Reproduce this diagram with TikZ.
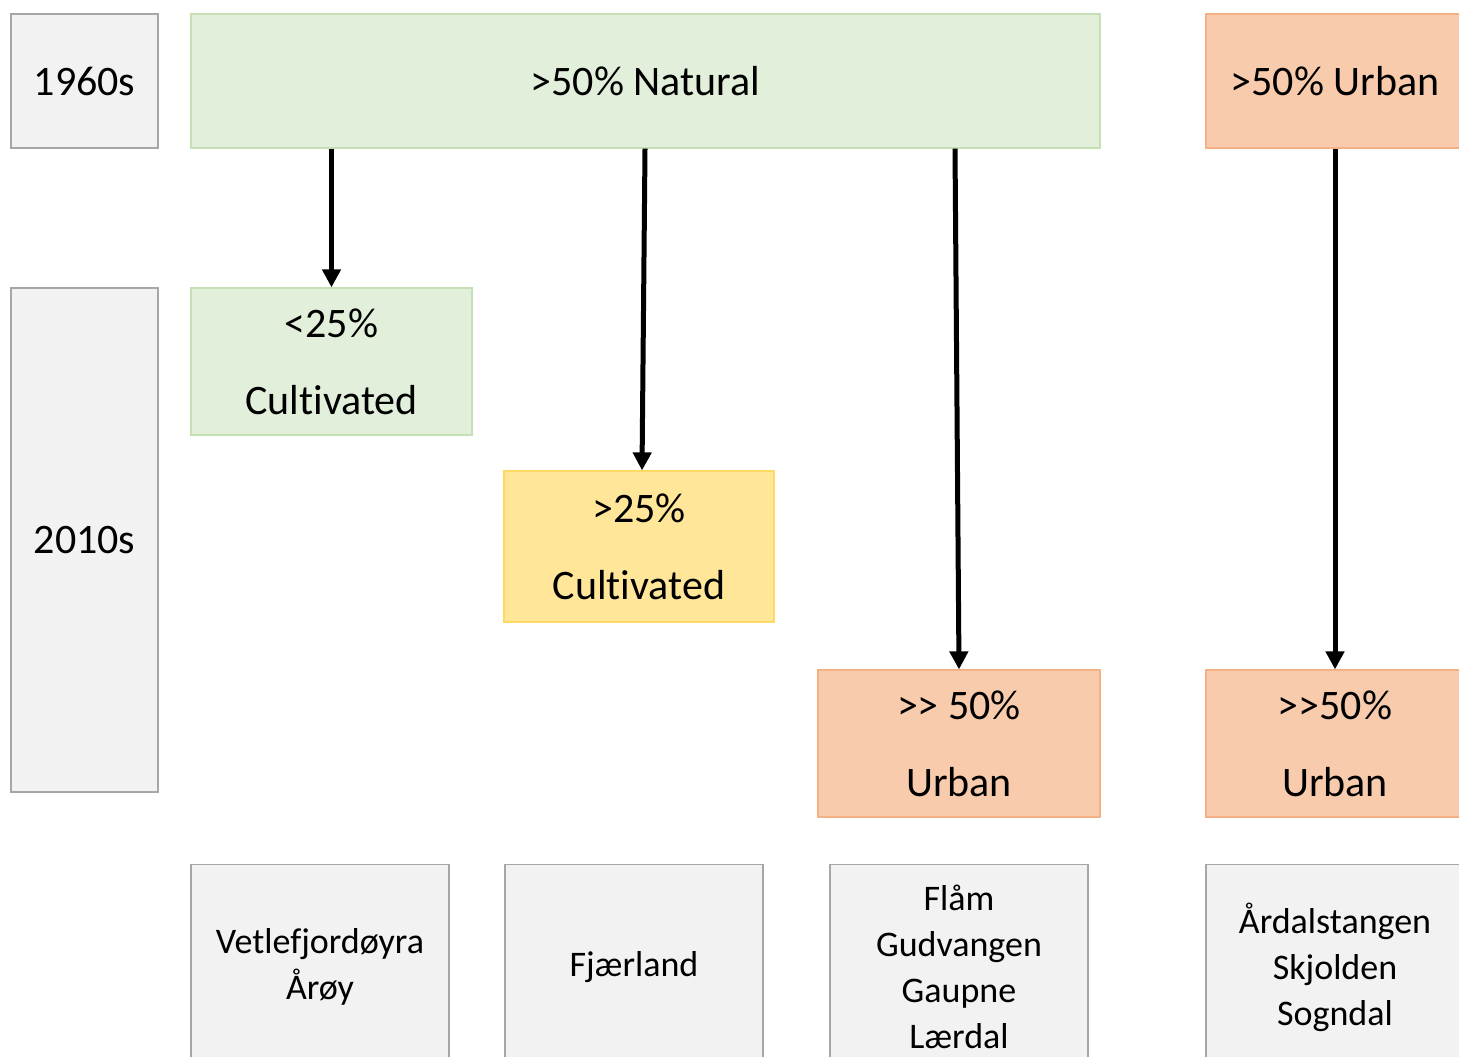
\documentclass[tikz,border=0pt]{standalone}
\usepackage{fontspec}
\setmainfont{Carlito}[Ligatures={TeXOff,CommonOff}]
\usetikzlibrary{arrows.meta}
\definecolor{boxgray}{HTML}{F2F2F2}
\definecolor{linegray}{HTML}{A6A6A6}
\definecolor{natgreen}{HTML}{E2EFDA}
\definecolor{natline}{HTML}{C5E0B4}
\definecolor{urborange}{HTML}{F8CBAD}
\definecolor{urbline}{HTML}{F4B183}
\definecolor{cultyellow}{HTML}{FFE699}
\definecolor{cultline}{HTML}{FFD966}
\tikzset{
  box/.style={rectangle, inner sep=0pt, align=center, line width=0.6pt,
    font=\fontsize{21}{38.5}\selectfont},
  decade/.style={box, draw=linegray, fill=boxgray},
  natural/.style={box, draw=natline, fill=natgreen},
  urban/.style={box, draw=urbline, fill=urborange},
  cultiv/.style={box, draw=cultline, fill=cultyellow},
  place/.style={box, draw=linegray, fill=boxgray, font=\fontsize{18}{23}\selectfont},
  trend/.style={line width=2.5pt, -{Triangle[length=9pt,width=9pt]}}
}
\begin{document}
\begin{tikzpicture}[x=0.5pt, y=-0.5pt]
	\useasboundingbox (0,0) rectangle (1459,1056);
	\clip (0,0) rectangle (1459,1056);
	% decades
	\node [decade, minimum width=73.5pt, minimum height=67pt] (y60) at (84.5,81) {1960s};
	\node [decade, minimum width=73.5pt, minimum height=252pt] (y10) at (84.5,540) {2010s};
	% 1960s
	\node [natural, minimum width=454.5pt, minimum height=67pt] (nat) at (645.5,81) {>50\% Natural};
	\node [urban, minimum width=129pt, minimum height=67pt] (urb) at (1335,81) {>50\% Urban};
	% 2010s
	\node [natural, minimum width=140.5pt, minimum height=73.5pt] (lowcult) at (331.5,361.5) {<25\%\\Cultivated};
	\node [cultiv, minimum width=135pt, minimum height=75.5pt] (highcult) at (639,546.5) {>25\%\\Cultivated};
	\node [urban, minimum width=141pt, minimum height=73.5pt] (newurb) at (959,743.5) {>> 50\%\\Urban};
	\node [urban, minimum width=129pt, minimum height=73.5pt] (oldurb) at (1335,743.5) {>>50\%\\Urban};
	% places
	\node [place, minimum width=129pt, minimum height=102.5pt] (pl1) at (320,967) {Vetlefjordøyra\\Årøy};
	\node [place, minimum width=129pt, minimum height=102.5pt] (pl2) at (634,967) {Fjærland};
	\node [place, minimum width=129pt, minimum height=102.5pt] (pl3) at (959,967) {Flåm\\Gudvangen\\Gaupne\\Lærdal};
	\node [place, minimum width=129pt, minimum height=102.5pt] (pl4) at (1335,967) {Årdalstangen\\Skjolden\\Sogndal};
	% changes
	\draw [trend] (lowcult.north |- nat.south) -- (lowcult.north);
	\draw [trend] ([xshift=3pt]highcult.north |- nat.south) -- ([xshift=1.5pt]highcult.north);
	\draw [trend] ([xshift=-2pt]newurb.north |- nat.south) -- (newurb.north);
	\draw [trend] (urb.south) -- (oldurb.north);
\end{tikzpicture}
\end{document}
